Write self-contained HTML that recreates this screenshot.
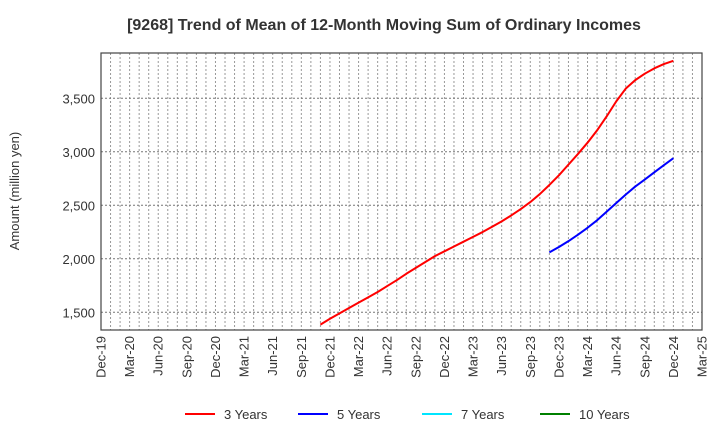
<!DOCTYPE html>
<html><head><meta charset="utf-8"><style>
body{margin:0;background:#fff;font-family:"Liberation Sans",sans-serif;}
svg text{font-family:"Liberation Sans",sans-serif;}
</style></head><body>
<svg id="c" width="720" height="440" xmlns="http://www.w3.org/2000/svg">
<text x="384" y="30" text-anchor="middle" font-size="16" font-weight="bold" fill="#333">[9268]  Trend of Mean of 12-Month Moving Sum of Ordinary Incomes</text>
<text transform="translate(19,191) rotate(-90)" text-anchor="middle" font-size="13" fill="#333">Amount (million yen)</text>
<g id="grid"></g><g id="series"></g><g id="axes"></g>
<g id="legend"></g>
</svg>
<script>
const xLabels=["Dec-19","Mar-20","Jun-20","Sep-20","Dec-20","Mar-21","Jun-21","Sep-21","Dec-21","Mar-22","Jun-22","Sep-22","Dec-22","Mar-23","Jun-23","Sep-23","Dec-23","Mar-24","Jun-24","Sep-24","Dec-24","Mar-25"];
const yTicks=[1500,2000,2500,3000,3500];
const y3Start=23;
const years3=[1385,1440,1490,1540,1590,1640,1690,1745,1800,1860,1915,1970,2025,2070,2115,2160,2205,2250,2300,2350,2405,2465,2530,2605,2690,2780,2880,2980,3085,3200,3330,3470,3590,3670,3730,3780,3820,3850];
const y5Start=47;
const years5=[2060,2110,2165,2225,2290,2360,2440,2520,2600,2675,2740,2808,2875,2940];
const L=101,R=702,T=53,B=330,N=63;
const NS="http://www.w3.org/2000/svg";
const xs=i=>L+(R-L)*i/N;
const ys=v=>312.3-(v-1500)*0.107;
function mk(tag,attrs,parent){const e=document.createElementNS(NS,tag);for(const k in attrs)e.setAttribute(k,attrs[k]);parent.appendChild(e);return e;}
const grid=document.getElementById('grid'),axes=document.getElementById('axes'),ser=document.getElementById('series'),leg=document.getElementById('legend');
for(let i=1;i<N;i++){const l=mk('line',{x1:xs(i),x2:xs(i),y1:T,y2:B,stroke:'#999','stroke-dasharray':'2,2','stroke-width':1},grid);

}
yTicks.forEach(v=>{const l=mk('line',{x1:L,x2:R,y1:ys(v),y2:ys(v),stroke:'#777','stroke-dasharray':'2,2','stroke-width':1},grid);


const t=mk('text',{x:L-6,y:ys(v)+5,'text-anchor':'end','font-size':13,fill:'#333'},axes);t.textContent=v.toLocaleString('en-US');

});
const fr=mk('rect',{x:L,y:T,width:R-L,height:B-T,fill:'none',stroke:'#444','stroke-width':1.2},axes);


xLabels.forEach((s,k)=>{const x=xs(k*3);const t=mk('text',{transform:`translate(${x+4.5},${B+6}) rotate(-90)`,'text-anchor':'end','font-size':13,fill:'#333'},axes);t.textContent=s;

});
function line(vals,start,color,name){const p=mk('polyline',{points:vals.map((v,i)=>xs(start+i)+','+ys(v)).join(' '),fill:'none',stroke:color,'stroke-width':2,'stroke-linejoin':'round'},ser);

}
line(years3,y3Start,'#ff0000','series-3-years');
line(years5,y5Start,'#0000ff','series-5-years');
[["3 Years","#ff0000",185],["5 Years","#0000ff",298],["7 Years","#00e5ff",422],["10 Years","#008000",540]].forEach(([n,c,x])=>{
const g=mk('g',{},leg);


mk('line',{x1:x,x2:x+30,y1:414,y2:414,stroke:c,'stroke-width':2},g);
const t=mk('text',{x:x+39,y:419,'font-size':13,fill:'#333'},g);t.textContent=n;});
</script>
</body></html>
